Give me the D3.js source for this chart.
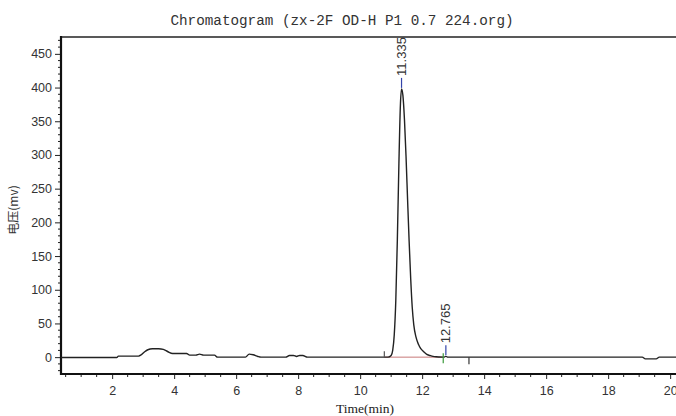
<!DOCTYPE html>
<html>
<head>
<meta charset="utf-8">
<script src="https://cdn.jsdelivr.net/npm/d3@7"></script>
<style>
  body { margin: 0; background: #fff; }
  .axis text { font-family: "Liberation Sans", Arial, sans-serif; font-size: 12.5px; fill: #333; }
  .axis path { display: none; }
  .axis line { stroke: #222; }
</style>
</head>
<body>
<div id="chart"></div>
<script>
// trace: time (min) / signal (mV)
const times = [0.35, 2.15, 2.2, 2.85, 2.95, 3.05, 3.15, 3.3, 3.5, 3.65, 3.8, 3.95, 4.4, 4.5, 4.7, 4.82, 4.95, 5.3, 5.4,
    6.3, 6.42, 6.55, 6.7, 6.8, 7.6, 7.72, 7.85, 7.95, 8.05, 8.15, 8.3, 10.9,
    11.0, 11.05, 11.1, 11.15, 11.2, 11.25, 11.3, 11.335, 11.38, 11.43, 11.48, 11.53, 11.58, 11.63, 11.68, 11.73,
    11.8, 11.88, 11.95, 12.05, 12.15, 12.25, 12.35, 12.45, 12.55, 12.7, 12.765, 12.83,
    19.1, 19.2, 19.55, 19.65, 20.35];
const signal = [-0.5, -0.5, 1.5, 1.5, 4, 8, 11, 12.5, 12.5, 11.5, 8, 5.5, 5.5, 3, 3, 4.5, 3, 3, 0,
    0, 4.5, 3.5, 1, 0, 0, 2.5, 2.5, 1, 2.5, 2.5, 0, 0,
    2.5, 10, 33, 84, 174, 287, 376, 398, 388, 352, 298, 234, 172, 117, 74, 48,
    30, 19, 13, 8, 4, 2.5, 1.2, 0.5, 0.2, 0, 1.2, 0,
    0, -2.5, -2.5, 0, 0];

// peaks
const peakTimes = [11.335, 12.765];
const peakValues = [398, 1.2];
const peakLabels = ["11.335", "12.765"];

// integration events
const eventTimes = [10.78, 12.68, 13.51];
const eventKinds = ["start", "end", "stop"];
const baselineFrom = 10.78, baselineTo = 12.68;

const xTicks = d3.range(2, 21, 2);
const xMinor = d3.range(0.5, 20.3, 0.5);
const yTicks = d3.range(0, 451, 50);
const yMinor = d3.range(-20, 471, 10);

const title = "Chromatogram (zx-2F OD-H P1 0.7 224.org)";
const xTitle = "Time(min)";
const yTitle = "电压(mv)";

const W = 676, H = 416;
const margin = {top: 37, right: -5, bottom: 42, left: 61};
const width = W - margin.left - margin.right;
const height = H - margin.top - margin.bottom;

const svg = d3.select("#chart").append("svg")
    .attr("width", W).attr("height", H);

const g = svg.append("g")
    .attr("transform", `translate(${margin.left},${margin.top})`);

const x = d3.scaleLinear().domain([0.35, 20.35]).range([0, width]);
const y = d3.scaleLinear().domain([-25, 475]).range([height, 0]);

// title
svg.append("text")
    .attr("x", 342).attr("y", 25)
    .attr("text-anchor", "middle")
    .style("font-family", "'Liberation Mono', 'DejaVu Sans Mono', monospace")
    .style("font-size", "14.3px")
    .style("fill", "#333")
    .text(title);

// axes
g.append("g").attr("class", "axis")
    .call(d3.axisLeft(y).tickValues(yTicks).tickSize(6).tickPadding(3));
g.append("g").attr("class", "axis")
    .selectAll("line").data(yMinor.filter(v => v % 50 !== 0)).join("line")
    .attr("x1", 0).attr("x2", -3)
    .attr("y1", d => y(d)).attr("y2", d => y(d));

g.append("g").attr("class", "axis")
    .attr("transform", `translate(0,${height})`)
    .call(d3.axisBottom(x).tickValues(xTicks).tickSize(5).tickPadding(7));
g.append("g").attr("class", "axis")
    .attr("transform", `translate(0,${height})`)
    .selectAll("line").data(xMinor.filter(v => v % 2 !== 0)).join("line")
    .attr("x1", d => x(d)).attr("x2", d => x(d))
    .attr("y1", 0).attr("y2", 3);

// frame
g.append("line").attr("x1", 0).attr("x2", width).attr("y1", 0).attr("y2", 0)
    .attr("stroke", "#222").attr("stroke-width", 1.5);
g.append("line").attr("x1", 0).attr("x2", 0).attr("y1", -1).attr("y2", height + 1)
    .attr("stroke", "#111").attr("stroke-width", 2.2);
g.append("line").attr("x1", 0).attr("x2", width).attr("y1", height).attr("y2", height)
    .attr("stroke", "#111").attr("stroke-width", 2.2);

// axis titles
svg.append("text")
    .attr("x", 365).attr("y", 413)
    .attr("text-anchor", "middle")
    .style("font-family", "'Liberation Serif', 'Times New Roman', serif")
    .style("font-size", "13.5px")
    .style("fill", "#222")
    .text(xTitle);

svg.append("text")
    .attr("transform", "translate(18,210) rotate(-90)")
    .attr("text-anchor", "middle")
    .style("font-family", "'Noto Sans CJK SC', sans-serif")
    .style("font-size", "12px")
    .style("fill", "#333")
    .text(yTitle);

// integration baseline
g.append("line")
    .attr("x1", x(baselineFrom)).attr("x2", x(baselineTo))
    .attr("y1", y(0)).attr("y2", y(0))
    .attr("stroke", "#c87878").attr("stroke-width", 1);

// trace
const trace = times.map((t, i) => ({t, v: signal[i]}));
const line = d3.line()
    .x(d => x(d.t))
    .y(d => y(d.v))
    .curve(d3.curveMonotoneX);

g.append("path")
    .datum(trace)
    .attr("fill", "none")
    .attr("stroke", "#222")
    .attr("stroke-width", 1.4)
    .attr("d", line);

// event markers
const eventStyle = {
    start: {color: "#555", up: 6, down: 0},
    end: {color: "#3a9a3a", up: 4, down: 6},
    stop: {color: "#333", up: 0, down: 7}
};
g.selectAll(".event")
    .data(eventTimes.map((t, i) => ({t, kind: eventKinds[i]})))
    .join("line")
    .attr("class", "event")
    .attr("x1", d => x(d.t)).attr("x2", d => x(d.t))
    .attr("y1", d => y(0) - eventStyle[d.kind].up)
    .attr("y2", d => y(0) + eventStyle[d.kind].down)
    .attr("stroke", d => eventStyle[d.kind].color)
    .attr("stroke-width", 1.2);

// peak markers and labels
const peaks = peakTimes.map((t, i) => ({t, v: peakValues[i], label: peakLabels[i]}));
g.selectAll(".peak-tick")
    .data(peaks)
    .join("line")
    .attr("class", "peak-tick")
    .attr("x1", d => x(d.t)).attr("x2", d => x(d.t))
    .attr("y1", d => y(d.v) - 1).attr("y2", d => y(d.v) - 11)
    .attr("stroke", "#3344aa").attr("stroke-width", 1.2);

g.selectAll(".peak-label")
    .data(peaks)
    .join("text")
    .attr("class", "peak-label")
    .attr("transform", d => `translate(${x(d.t)},${y(d.v) - 13}) rotate(-90)`)
    .attr("dy", "0.35em")
    .style("font-family", "'Liberation Sans', Arial, sans-serif")
    .style("font-size", "13px")
    .style("fill", "#333")
    .text(d => d.label);
</script>
</body>
</html>
